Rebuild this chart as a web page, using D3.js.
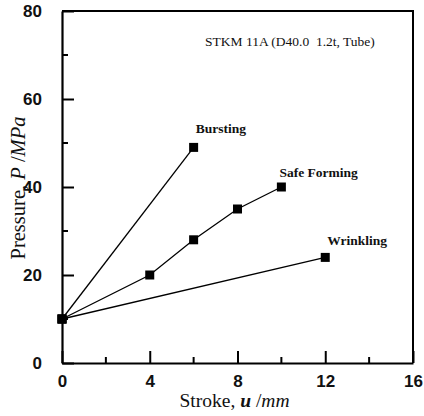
<!DOCTYPE html>
<html>
<head>
<meta charset="utf-8">
<script src="https://cdn.jsdelivr.net/npm/d3@7"></script>
<style>
  html, body { margin: 0; padding: 0; background: #fff; }
  svg { display: block; }
</style>
</head>
<body>
<svg id="chart" width="424" height="416"></svg>
<script>
// Forming window for STKM 11A tube: internal pressure against axial stroke
const bursting    = [[0, 10], [6, 49]];
const safeForming = [[0, 10], [4, 20], [6, 28], [8, 35], [10, 40]];
const wrinkling   = [[0, 10], [12, 24]];
const seriesNames = ["Bursting", "Safe Forming", "Wrinkling"];
const xTicks = [0, 4, 8, 12, 16];
const yTicks = [0, 20, 40, 60, 80];
const xMinor = [2, 6, 10, 14];
const yMinor = [10, 30, 50, 70];

const svg = d3.select("#chart");
const m = { left: 62, right: 413, top: 11, bottom: 363 };

const x = d3.scaleLinear().domain([0, 16]).range([m.left, m.right]);
const y = d3.scaleLinear().domain([0, 80]).range([m.bottom, m.top]);

const serif = "'Liberation Serif', 'Times New Roman', serif";
const sans = "'Liberation Sans', Arial, sans-serif";

// frame: top and right edges
svg.append("path")
  .attr("d", `M${m.left},${m.top}H${m.right}V${m.bottom}`)
  .attr("fill", "none").attr("stroke", "#000").attr("stroke-width", 2);

// bottom axis with inward ticks
const xAxis = svg.append("g").attr("transform", `translate(0,${m.bottom})`)
  .call(d3.axisBottom(x).tickValues(xTicks).tickSize(-12).tickSizeOuter(0).tickPadding(22));
xAxis.select(".domain").attr("stroke-width", 2.2);
xAxis.selectAll(".tick line").attr("stroke-width", 2);
xAxis.selectAll(".tick text")
  .attr("font-family", sans).attr("font-size", 17).attr("font-weight", "bold")
  .attr("fill", "#111").attr("dy", "0.1em");
xAxis.selectAll(".minor").data(xMinor).enter().append("line")
  .attr("x1", d => x(d)).attr("x2", d => x(d)).attr("y1", 0).attr("y2", -6)
  .attr("stroke", "#000").attr("stroke-width", 2);

// left axis with inward ticks
const yAxis = svg.append("g").attr("transform", `translate(${m.left},0)`)
  .call(d3.axisLeft(y).tickValues(yTicks).tickSize(-12).tickSizeOuter(0).tickPadding(20));
yAxis.select(".domain").attr("stroke-width", 2.2);
yAxis.selectAll(".tick line").attr("stroke-width", 2);
yAxis.selectAll(".tick text")
  .attr("font-family", sans).attr("font-size", 17).attr("font-weight", "bold")
  .attr("fill", "#111");
yAxis.selectAll(".minor").data(yMinor).enter().append("line")
  .attr("x1", 0).attr("x2", 6).attr("y1", d => y(d)).attr("y2", d => y(d))
  .attr("stroke", "#000").attr("stroke-width", 2);

// series lines and square markers
const line = d3.line().x(d => x(d[0])).y(d => y(d[1]));
const allSeries = [bursting, safeForming, wrinkling];
allSeries.forEach(s => {
  svg.append("path").attr("d", line(s))
    .attr("fill", "none").attr("stroke", "#000").attr("stroke-width", 1.3);
  svg.selectAll(null).data(s).enter().append("rect")
    .attr("x", d => x(d[0]) - 4.5).attr("y", d => y(d[1]) - 4.5)
    .attr("width", 9).attr("height", 9).attr("fill", "#000");
});

// series labels near the end points
const labelOffsets = [[2, -14], [-2, -10], [2, -12]];
allSeries.forEach((s, i) => {
  const last = s[s.length - 1];
  svg.append("text")
    .attr("x", x(last[0]) + labelOffsets[i][0])
    .attr("y", y(last[1]) + labelOffsets[i][1])
    .attr("font-family", serif).attr("font-size", 13.5).attr("font-weight", "bold")
    .attr("fill", "#111").text(seriesNames[i]);
});

// material note
svg.append("text").attr("x", 205).attr("y", 46)
  .attr("font-family", serif).attr("font-size", 13.5).attr("fill", "#111")
  .attr("xml:space", "preserve")
  .text("STKM 11A (D40.0  1.2t, Tube)");

// axis titles
const xt = svg.append("text").attr("x", (m.left + m.right) / 2 - 3).attr("y", 407)
  .attr("text-anchor", "middle").attr("font-family", serif).attr("font-size", 19.5).attr("fill", "#111")
  .attr("xml:space", "preserve");
xt.append("tspan").text("Stroke, ");
xt.append("tspan").attr("font-style", "italic").attr("font-weight", "bold").text("u");
xt.append("tspan").text(" /");
xt.append("tspan").attr("font-style", "italic").text("mm");

const yt = svg.append("text")
  .attr("transform", `translate(25,${(m.top + m.bottom) / 2 + 1}) rotate(-90)`)
  .attr("text-anchor", "middle").attr("font-family", serif).attr("font-size", 20.5).attr("fill", "#111")
  .attr("xml:space", "preserve");
yt.append("tspan").text("Pressure, ");
yt.append("tspan").attr("font-style", "italic").text("P");
yt.append("tspan").text(" /");
yt.append("tspan").attr("font-style", "italic").text("MPa");
</script>
</body>
</html>
